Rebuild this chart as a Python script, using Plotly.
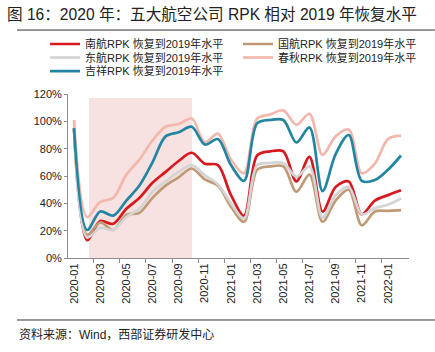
import plotly.graph_objects as go

months = ["2020-01", "2020-02", "2020-03", "2020-04", "2020-05", "2020-06", "2020-07",
          "2020-08", "2020-09", "2020-10", "2020-11", "2020-12", "2021-01", "2021-02",
          "2021-03", "2021-04", "2021-05", "2021-06", "2021-07", "2021-08", "2021-09",
          "2021-10", "2021-11", "2021-12", "2022-01", "2022-02"]

csair = [95, 13, 27, 25, 36, 44, 55, 63, 71, 77, 69, 68, 46, 31, 75, 78, 78, 56, 74, 34, 52, 56, 32, 42, 46, 49.5]
airchina = [94, 17, 26, 20.5, 31.5, 33, 44, 53, 59, 65.5, 57.5, 53, 37.5, 26.5, 64.5, 67, 67, 48.5, 61, 26.5, 42, 50, 24, 34, 34.5, 35]
ceair = [94, 15, 22, 20.5, 30, 36, 48.5, 56, 63, 68, 60.5, 54, 40, 29, 68, 69.5, 69.5, 59.5, 67, 29.5, 46, 52, 32, 36.5, 39, 43.5]
spring = [101, 30, 41, 44, 61, 72, 86, 96, 98, 102, 84.5, 91, 72, 62, 102, 105, 108, 97.5, 105.5, 75.5, 89, 94, 62, 69, 87, 89.5]
juneyao = [95, 20.5, 34, 31, 42, 53, 70, 89, 92, 96, 83, 87, 68, 56.5, 98.5, 101, 101, 84.5, 95.5, 49, 76, 90, 56.5, 57, 64.5, 75]

names = ["南航RPK 恢复到2019年水平", "国航RPK 恢复到2019年水平", "东航RPK 恢复到2019年水平",
         "春秋RPK 恢复到2019年水平", "吉祥RPK 恢复到2019年水平"]
series = [csair, airchina, ceair, spring, juneyao]
colors = ["#D7191F", "#C09A76", "#D4D4D4", "#F2B8AE", "#2286A3"]
legend_ids = ["legend", "legend2", "legend3", "legend4", "legend5"]

shade_start, shade_end, shade_top = 1.15, 9.02, 117

y_ticks = [0, 20, 40, 60, 80, 100, 120]
y_text = [f"{v}%" for v in y_ticks]

FONT = "Liberation Sans, Arial, Noto Sans CJK SC, sans-serif"

idx = list(range(len(months)))

fig = go.Figure()
for name, vals, col, lg in zip(names, series, colors, legend_ids):
    fig.add_trace(go.Scatter(
        x=idx, y=vals, name=name, mode="lines",
        line=dict(color=col, width=2.7, shape="spline", smoothing=0.9),
        legend=lg, hoverinfo="skip"))

fig.add_shape(type="rect", xref="x", yref="y", x0=shade_start, x1=shade_end,
              y0=0, y1=shade_top, fillcolor="#F7E1E1", line=dict(width=0), layer="below")

# title rule and source rule
fig.add_shape(type="line", xref="paper", yref="paper", x0=-0.1496, x1=1.0762,
              y0=1.39, y1=1.39, line=dict(color="#333", width=1))
fig.add_shape(type="line", xref="paper", yref="paper", x0=-0.1496, x1=1.0762,
              y0=-0.378, y1=-0.378, line=dict(color="#333", width=1))

fig.add_annotation(text="资料来源：Wind，西部证券研发中心", xref="paper", yref="paper",
                   x=-0.1496, y=-0.4695, xanchor="left", yanchor="middle", showarrow=False,
                   font=dict(family=FONT, size=12, color="#222"))

leg_common = dict(orientation="h", xanchor="left", yanchor="middle",
                  bgcolor="rgba(0,0,0,0)",
                  font=dict(family=FONT, size=11, color="#222"), itemwidth=30)

col1, col2 = -0.0674, 0.4985
row1, row2, row3 = 1.305, 1.2226, 1.140

fig.update_layout(
    width=435, height=352,
    margin=dict(l=68, r=26, t=94, b=94),
    paper_bgcolor="white", plot_bgcolor="white",
    font=dict(family=FONT, size=11, color="#222"),
    title=dict(text="图 16：2020 年：五大航空公司 RPK 相对 2019 年恢复水平",
               x=7 / 435, xref="container", xanchor="left",
               y=1 - 15 / 352, yref="container", yanchor="middle",
               font=dict(family=FONT, size=15.6, color="#222")),
    legend=dict(x=col1, y=row1, **leg_common),
    legend2=dict(x=col2, y=row1, **leg_common),
    legend3=dict(x=col1, y=row2, **leg_common),
    legend4=dict(x=col2, y=row2, **leg_common),
    legend5=dict(x=col1, y=row3, **leg_common),
    showlegend=True,
    hovermode=False,
)

fig.update_xaxes(range=[-0.46, 25.61], showgrid=False, zeroline=False,
                 showline=True, linecolor="#8c8c8c", linewidth=1,
                 tickmode="array", tickvals=idx[::2], ticktext=months[::2],
                 tickangle=-90, ticks="", tickfont=dict(family=FONT, size=11, color="#222"),
                 minor=dict(tickmode="array", tickvals=[i + 1.5 for i in idx[::2][:-1]],
                            ticks="outside", ticklen=4, tickcolor="#8c8c8c"))
fig.update_yaxes(range=[0, 120], showgrid=False, zeroline=False,
                 showline=True, linecolor="#8c8c8c", linewidth=1,
                 tickmode="array", tickvals=y_ticks, ticktext=y_text,
                 ticks="outside", ticklen=3, tickcolor="#8c8c8c",
                 tickfont=dict(family=FONT, size=11, color="#222"))

fig.write_html("out.html")
